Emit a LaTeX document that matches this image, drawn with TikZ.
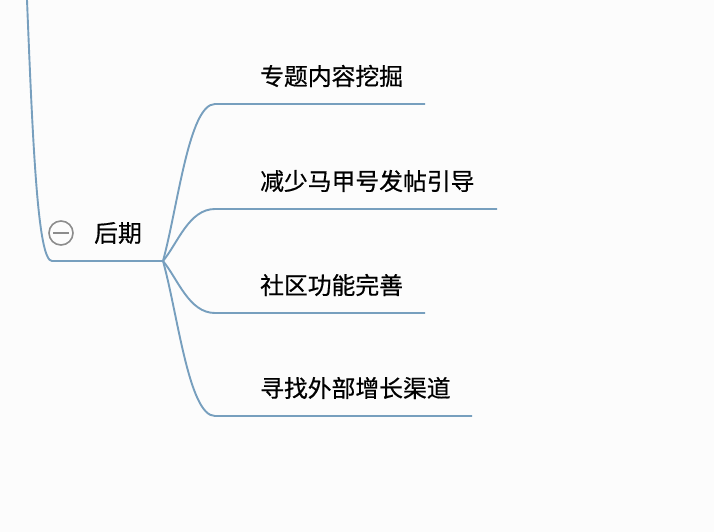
\documentclass[tikz,border=0pt]{standalone}
\usepackage{fontspec}
\setmainfont{Noto Sans CJK SC}[FakeBold=0.6]
\begin{document}
\begin{tikzpicture}[x=1pt,y=-1pt,
  link/.style={draw=linkblue,line width=1.9pt},
  leaf/.style={anchor=west,inner sep=0pt,font=\fontsize{23.8}{28}\selectfont},
  collapse/.style={circle,draw=gray!90,line width=1.6pt,minimum size=24pt,inner sep=0pt}]
\definecolor{linkblue}{HTML}{779FBE}
\fill[fill={rgb,255:red,252;green,252;blue,252}] (0,0) rectangle (714,532);
\useasboundingbox (0,0) rectangle (714,532);
% trunk
\coordinate (top) at (27,0);
\coordinate (corner) at (52,261);
\coordinate (hub) at (163,261);
\draw[link] (top) .. controls (33,150) and (38,261) .. (corner) -- (hub);
% parent label
\node[collapse] (col) at (61,233) {};
\draw[gray!90,line width=1.6pt] ([xshift=-8pt]col.center) -- ([xshift=8pt]col.center);
\node[leaf] (later) at (94,233) {后期};
% branches
\foreach \i/\y/\xe/\txt in {1/104/425/专题内容挖掘, 2/209/497/减少马甲号发帖引导, 3/313/425/社区功能完善, 4/416/472/寻找外部增长渠道}{
  \coordinate (s\i) at (215,\y);
  \coordinate (e\i) at (\xe,\y);
  \pgfmathsetmacro{\cy}{261+0.35*(\y-261)}
  \draw[link] (hub) .. controls (178,\cy) and (189,\y) .. (s\i) -- (e\i);
  \node[leaf] (t\i) at (260,\y-28) {\txt};
}
\end{tikzpicture}
\end{document}
